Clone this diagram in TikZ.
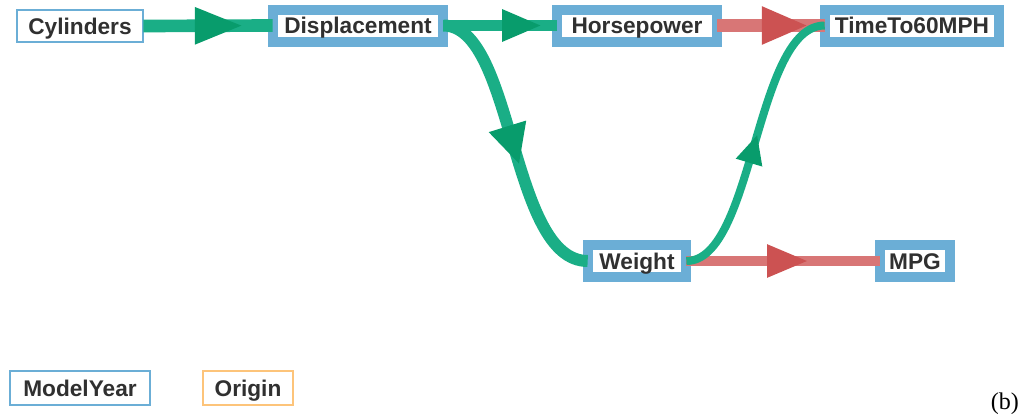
\documentclass[tikz,border=0pt]{standalone}
\usepackage{fontspec}
\setmainfont{Liberation Sans}
\newfontfamily\serifb{Liberation Serif}
\usetikzlibrary{arrows.meta,decorations.markings}
\definecolor{gline}{HTML}{1AAE86}
\definecolor{ghead}{HTML}{089C6C}
\definecolor{rline}{HTML}{D87676}
\definecolor{rhead}{HTML}{CC5252}
\definecolor{bbox}{HTML}{6BAED6}
\definecolor{obox}{HTML}{FDC47A}
\definecolor{txt}{HTML}{303030}
\begin{document}
\begin{tikzpicture}[x=0.75pt,y=-0.75pt,
  var/.style={font=\fontsize{17}{20}\selectfont\bfseries, text=txt, fill=white, inner xsep=4pt, inner ysep=0pt, outer sep=0pt, anchor=center, text height=12.3pt, text depth=0pt},
  thickbox/.style={var, draw=bbox, line width=7.5pt, minimum height=24pt},
  thinbox/.style={var, draw=bbox, line width=1.5pt, minimum height=24pt},
  orangebox/.style={var, draw=obox, line width=1.5pt, minimum height=26pt},
  gedge/.style n args={4}{draw=gline, line width=#2, postaction={decorate},
    decoration={markings, mark=at position #1 with {\arrow[color=ghead]{Triangle[length=#3,width=#4]}}}},
  redge/.style n args={4}{draw=rline, line width=#2, postaction={decorate},
    decoration={markings, mark=at position #1 with {\arrow[color=rhead]{Triangle[length=#3,width=#4]}}}}
]
\useasboundingbox (0,0) rectangle (1020,418);

\node[thinbox, minimum width=95pt] (cyl) at (80,26) {Cylinders};
\node[thickbox, minimum width=128pt] (disp) at (358,25.5) {Displacement};
\node[thickbox, minimum width=120pt] (hp) at (637,25.5) {Horsepower};
\node[thickbox, minimum width=131pt] (time) at (912,25.5) {TimeTo60MPH};
\node[thickbox, minimum width=74pt] (weight) at (637,261) {Weight};
\node[thickbox, minimum width=52.5pt] (mpg) at (915,261) {MPG};
\node[thinbox, minimum width=105pt, minimum height=26pt] (my) at (80,388) {ModelYear};
\node[orangebox, minimum width=67.5pt] (origin) at (248,388) {Origin};
\node[font=\serifb\fontsize{18}{20}\selectfont, inner sep=0pt, anchor=east] (lbl) at (1019,404) {(b)};

\path[gedge={0.78}{9.5pt}{37pt}{25pt}] (cyl.east) -- (disp.west);
\path[gedge={0.87}{8pt}{30pt}{22pt}] (disp.east) -- (hp.west);
\path[redge={0.85}{9.5pt}{35pt}{26pt}] (hp.east) -- (time.west);
\path[redge={0.63}{7pt}{31pt}{23pt}] (weight.east) -- (mpg.west);
\path[gedge={0.57}{9pt}{30pt}{27pt}] (disp.east) .. controls +(71,0) and +(-78,0) .. (weight.west);
\path[gedge={0.53}{6pt}{22pt}{19pt}] (weight.east) .. controls +(68,0) and +(-70,0) .. (time.west);
\end{tikzpicture}
\end{document}
